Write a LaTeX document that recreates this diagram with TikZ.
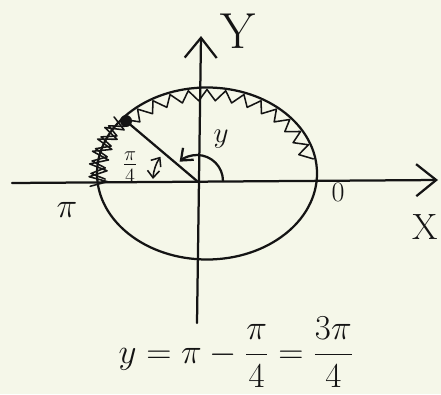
\documentclass[tikz,border=0pt]{standalone}
\usepackage{amsmath,amssymb}
\usepackage{tikz}
\usetikzlibrary{arrows.meta,calc}
\definecolor{paper}{HTML}{F5F7E9}
\definecolor{pencil}{HTML}{141414}

\begin{document}
\begin{tikzpicture}[x=0.25mm,y=0.25mm,line cap=round,line join=round,
    pen/.style={pencil,line width=1.6pt},
    axis/.style={pen,-{Straight Barb[length=5mm,width=8mm,line width=1.6pt]}},
    hatch/.style={pencil,line width=1.1pt},
    lbl/.style={inner sep=0pt,text=pencil}]
        \fill[paper] (0,0) rectangle (441,394);
        \useasboundingbox (0,0) rectangle (441,394);
        % axes
        \coordinate (O) at (197,213);
        \coordinate (xl) at (12,211);
        \coordinate (xr) at (438,214);
        \coordinate (yb) at (197,71);
        \coordinate (yt) at (201,358);
        \draw[axis] (xl)--(xr);
        \draw[axis] (yb)--(yt);
        % circle and radius
        \coordinate (C) at (207,220.5);
        \coordinate (P) at (126,273);
        \draw[pen] (C) ellipse[x radius=110,y radius=86];
        \draw[hatch] ([shift={(C)}]188:118 and 92)
          \foreach \a [evaluate=\a as \b using \a-4] in {186,178,...,146}{--([shift={(C)}]\a:100 and 78)--([shift={(C)}]\b:118 and 92)};
        \draw[hatch] ([shift={(C)}]184:102 and 80)
          \foreach \a [evaluate=\a as \b using \a-4] in {180,172,...,148}{--([shift={(C)}]\a:116 and 90)--([shift={(C)}]\b:102 and 80)};
        \draw[hatch] ([shift={(C)}]140:108 and 84)
          \foreach \a [evaluate=\a as \b using \a-5] in {135,125,...,15}{--([shift={(C)}]\a:95 and 73)--([shift={(C)}]\b:108 and 84)};
        \draw[pen] (O)--(P);
        \fill[pencil] (P) circle (6);
        % angle marks
        \draw[pen,-{Straight Barb[length=2.5mm,width=4mm]}] ($(O)+(26,0)$) arc[start angle=0,end angle=132,radius=26];
        \draw[hatch,{Straight Barb[length=1.8mm,width=3mm]}-{Straight Barb[length=1.8mm,width=3mm]}] ($(O)+(-44,2)$) arc[start angle=177,end angle=146,radius=44];
        % labels
        \node[lbl,font=\fontsize{36}{40}\selectfont] (ylab) at (238,363) {Y};
        \node[lbl,font=\fontsize{26}{30}\selectfont] (xlab) at (425,167) {X};
        \node[lbl,font=\fontsize{20}{24}\selectfont] (zero) at (338,202) {0};
        \node[lbl,font=\fontsize{38}{42}\selectfont] (pilab) at (67,184) {$\pi$};
        \node[lbl,font=\fontsize{22}{26}\selectfont] (anglab) at (221,255) {$y$};
        \node[lbl,font=\fontsize{22}{26}\selectfont] (quarter) at (130,227) {$\frac{\pi}{4}$};
        \node[lbl,font=\fontsize{30}{34}\selectfont] (eq) at (236,42) {$\displaystyle y=\pi-\frac{\pi}{4}=\frac{3\pi}{4}$};
      \end{tikzpicture}
\end{document}
